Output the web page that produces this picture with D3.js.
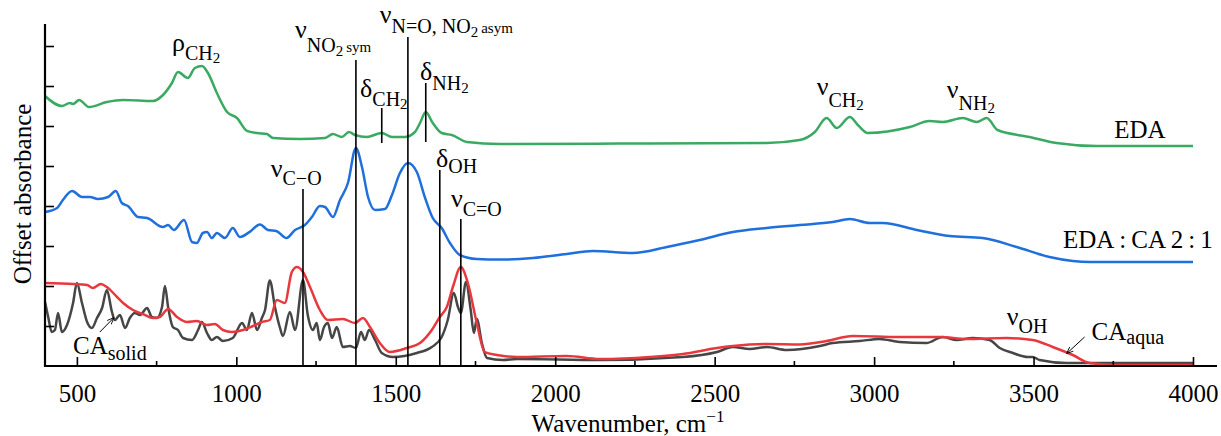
<!DOCTYPE html>
<html>
<head>
<meta charset="utf-8">
<script src="https://cdn.jsdelivr.net/npm/d3@7"></script>
<style>
  body { margin: 0; background: #fff; }
</style>
</head>
<body>
<div id="chart"></div>
<script>
// spectra: wavenumber (cm-1) and offset absorbance (arb. units, 1 per y tick)
var edaWn = [400,453,478,488,507,538,594,645,739,770,798,817,848,870,892,911,939,971,1002,1033,1065,1096,1115,1199,1278,1303,1331,1353,1372,1409,1456,1488,1529,1560,1576,1594,1616,1644,1676,1723,1826,2200,2663,2767,2814,2851,2883,2924,2949,2980,3112,3174,3215,3278,3322,3353,3387,3488,3572,3698,4000];
var edaAbs = [6.75,6.5,6.575,6.55,6.65,6.475,6.6,6.65,6.625,6.775,7.075,7.35,7.2,7.45,7.5,7.325,6.825,6.35,6.2,5.88,5.825,5.8,5.7,5.675,5.7,5.8,5.725,5.85,5.775,5.725,5.825,5.725,5.725,5.85,6.075,6.35,6.075,5.825,5.775,5.6,5.55,5.56,5.575,5.65,5.85,6.2,5.95,6.225,6.025,5.825,5.975,6.125,6.1,6.2,6.1,6.2,5.9,5.725,5.575,5.5,5.5];

var mixWn = [400,438,456,485,516,541,566,598,622,641,660,692,720,770,786,804,836,861,876,895,908,923,939,964,989,1011,1043,1074,1099,1127,1157,1184,1215,1237,1262,1278,1303,1325,1350,1375,1394,1413,1435,1466,1488,1513,1538,1566,1591,1616,1644,1670,1701,1754,1826,1930,2036,2118,2243,2350,2453,2557,2663,2767,2870,2924,2986,3027,3134,3237,3340,3447,3550,3623,3676,4000];
var mixAbs = [3.85,3.95,4.15,4.375,4.225,4.225,4.175,4.225,4.375,4.075,4.0,3.725,3.7,3.475,3.525,3.4,3.65,3.1,3.075,3.325,3.35,3.2,3.325,3.2,3.45,3.225,3.36,3.54,3.4,3.37,3.2,3.4,3.525,3.725,4.0,3.975,3.725,4.15,4.575,5.45,4.975,4.225,3.9,3.925,4.275,4.825,5.075,4.85,4.225,3.7,3.45,3.075,2.775,2.675,2.66,2.7,2.8,2.875,2.825,2.975,3.15,3.35,3.45,3.525,3.6,3.675,3.575,3.575,3.4,3.25,3.2,2.975,2.725,2.625,2.6,2.6];

var aquaWn = [400,488,532,550,575,594,626,645,676,707,739,760,786,814,845,876,908,933,958,986,1021,1052,1080,1105,1127,1152,1174,1190,1209,1231,1262,1287,1334,1372,1397,1419,1450,1481,1535,1576,1613,1638,1660,1679,1704,1726,1754,1779,1817,1880,2036,2140,2297,2400,2507,2557,2663,2767,2851,2933,3080,3206,3290,3416,3497,3560,3623,3676,3760,4000];
var aquaAbs = [2.075,2.05,2.025,1.95,2.05,1.975,1.725,1.575,1.4,1.3,1.2,1.225,1.425,1.225,1.1,1.125,1.025,1.05,0.9,0.85,0.9,1.0,1.1,1.15,1.65,1.575,2.35,2.475,2.35,1.975,1.4,1.15,1.175,1.075,1.2,0.975,0.575,0.35,0.45,0.575,0.9,1.225,1.475,1.975,2.475,2.075,1.075,0.35,0.275,0.225,0.25,0.175,0.225,0.3,0.45,0.5,0.55,0.54,0.625,0.75,0.725,0.725,0.675,0.7,0.65,0.475,0.275,0.075,0.025,0.025];

var solidWn = [400,410,421,431,441,453,469,488,500,516,532,547,563,579,594,610,619,635,651,666,682,698,720,735,751,767,776,786,801,817,833,861,880,892,908,923,939,958,989,1018,1033,1049,1065,1080,1090,1105,1121,1137,1146,1168,1184,1209,1224,1240,1252,1262,1275,1287,1300,1315,1334,1356,1375,1391,1403,1416,1435,1456,1491,1566,1613,1644,1663,1682,1695,1704,1720,1735,1745,1754,1770,1786,1836,1880,2140,2400,2507,2557,2610,2663,2726,2830,2870,2955,3017,3080,3164,3215,3259,3309,3362,3394,3435,3482,3497,3519,3604,4000];
var solidAbs = [1.6,1.225,0.85,0.9,1.325,0.85,1.025,1.575,2.075,1.575,1.1,0.95,1.2,1.45,1.9,1.35,1.15,1.275,0.95,1.2,1.325,1.275,1.45,1.225,1.2,1.475,2.0,1.475,0.975,0.9,0.7,0.65,0.9,1.1,0.825,0.65,0.725,0.625,0.7,1.075,0.9,1.325,0.9,1.2,1.4,2.14,1.475,0.95,0.75,1.35,0.9,2.15,1.275,0.9,1.075,0.65,0.975,1.075,0.7,0.975,0.475,0.5,0.45,0.85,0.65,0.9,0.65,0.325,0.225,0.325,0.475,0.725,1.15,1.825,1.475,1.325,2.1,1.4,0.825,1.175,0.575,0.2,0.15,0.175,0.15,0.225,0.35,0.475,0.425,0.475,0.4,0.5,0.575,0.625,0.675,0.6,0.575,0.725,0.65,0.7,0.65,0.45,0.325,0.225,0.225,0.15,0.075,0.075];

var xTicks = [500,1000,1500,2000,2500,3000,3500,4000];
var xMinorTicks = [750,1250,1750,2250,2750,3250,3750];
var yTicks = [1,2,3,4,5,6,7,8];

// band markers: wavenumber, top and bottom of the marker line
var bandWn = [1209,1375,1456,1538,1594,1638,1704];
var bandTop = [4.425,7.65,6.45,8.225,7.075,4.9,3.675];
var bandBottom = [0,0,5.575,0,5.6,0,0];

var width = 1221, height = 436;
var serif = '"Liberation Serif", "Times New Roman", Times, serif';

var x = d3.scaleLinear().domain([400, 4000]).range([45, 1193]);
var y = d3.scaleLinear().domain([0, 8.55]).range([366, 24]);

var svg = d3.select('#chart').append('svg')
    .attr('width', width)
    .attr('height', height)
    .style('font-family', serif);

var line = d3.line()
    .x(function(d) { return x(d[0]); })
    .y(function(d) { return y(d[1]); })
    .curve(d3.curveMonotoneX);

var series = [
  { wn: solidWn, ab: solidAbs, color: '#464646' },
  { wn: aquaWn, ab: aquaAbs, color: '#e8383d' },
  { wn: mixWn, ab: mixAbs, color: '#1f6fdc' },
  { wn: edaWn, ab: edaAbs, color: '#3aaa62' }
];

series.forEach(function(s) {
  svg.append('path')
      .datum(d3.zip(s.wn, s.ab))
      .attr('d', line)
      .attr('fill', 'none')
      .attr('stroke', s.color)
      .attr('stroke-width', 2.5)
      .attr('stroke-linejoin', 'round');
});

// marker lines
svg.selectAll('.band').data(bandWn)
  .enter().append('line')
    .attr('x1', function(d) { return x(d); })
    .attr('x2', function(d) { return x(d); })
    .attr('y1', function(d, i) { return y(bandTop[i]); })
    .attr('y2', function(d, i) { return y(bandBottom[i]); })
    .attr('stroke', '#000')
    .attr('stroke-width', 1.6);

// axes
var xAxis = svg.append('g')
    .attr('transform', 'translate(0,366)')
    .call(d3.axisBottom(x).tickValues(xTicks).tickFormat(d3.format('d'))
      .tickSizeInner(-9).tickSizeOuter(0).tickPadding(18));
xAxis.attr('font-family', null);
xAxis.select('.domain').remove();
xAxis.selectAll('.tick line').attr('stroke-width', 1.6);
xAxis.selectAll('.tick text')
    .style('font-size', '25px')
    .style('font-family', serif)
    .attr('fill', '#000');

svg.append('g')
    .attr('transform', 'translate(0,366)')
    .selectAll('line').data(xMinorTicks)
  .enter().append('line')
    .attr('x1', function(d) { return x(d); })
    .attr('x2', function(d) { return x(d); })
    .attr('y1', 0).attr('y2', -5)
    .attr('stroke', '#000').attr('stroke-width', 1.6);

svg.append('line')
    .attr('x1', 44).attr('x2', 1217)
    .attr('y1', 366).attr('y2', 366)
    .attr('stroke', '#000').attr('stroke-width', 2.2);

var yAxis = svg.append('g')
    .attr('transform', 'translate(45,0)')
    .call(d3.axisLeft(y).tickValues(yTicks).tickSizeInner(-9).tickSizeOuter(0).tickFormat(''));
yAxis.select('.domain').remove();
yAxis.selectAll('.tick line').attr('stroke-width', 1.6);
svg.append('line')
    .attr('x1', 45).attr('x2', 45)
    .attr('y1', 24).attr('y2', 367)
    .attr('stroke', '#000').attr('stroke-width', 2.2);

// axis titles
var xt = svg.append('text')
    .attr('x', 628).attr('y', 432)
    .attr('text-anchor', 'middle')
    .style('font-family', serif)
    .style('font-size', '25px');
xt.append('tspan').text('Wavenumber, cm');
xt.append('tspan').attr('dy', -10).style('font-size', '17px').text('\u22121');

svg.append('text')
    .attr('transform', 'translate(31,194) rotate(-90)')
    .attr('text-anchor', 'middle')
    .style('font-family', serif)
    .style('font-size', '25px')
    .text('Offset absorbance');

// labels: [text, font size, offset below main baseline]
var labels = [
  { wn: 798, v: 7.875, parts: [['\u03c1', 26, 0], ['CH', 20, 9], ['2', 15, 12]] },
  { wn: 1184, v: 8.2, parts: [['\u03bd', 26, 0], ['NO', 20, 14], ['2', 15, 18], ['\u2009sym', 15, 14]] },
  { wn: 1450, v: 8.575, parts: [['\u03bd', 26, 0], ['N=O, NO', 20, 10], ['2', 15, 14], ['\u2009asym', 15, 10]] },
  { wn: 1388, v: 6.725, parts: [['\u03b4', 26, 0], ['CH', 20, 9], ['2', 15, 12]] },
  { wn: 1576, v: 7.15, parts: [['\u03b4', 26, 0], ['NH', 20, 10], ['2', 15, 13]] },
  { wn: 1108, v: 4.725, parts: [['\u03bd', 26, 0], ['C\u2212O', 20, 8]] },
  { wn: 1626, v: 4.975, parts: [['\u03b4', 26, 0], ['OH', 20, 6]] },
  { wn: 1673, v: 3.975, parts: [['\u03bd', 26, 0], ['C=O', 20, 9]] },
  { wn: 2820, v: 6.775, parts: [['\u03bd', 26, 0], ['CH', 20, 12], ['2', 15, 15]] },
  { wn: 3228, v: 6.7, parts: [['\u03bd', 26, 0], ['NH', 20, 12], ['2', 15, 15]] },
  { wn: 3416, v: 1.025, parts: [['\u03bd', 26, 0], ['OH', 20, 8]] },
  { wn: 3682, v: 0.65, parts: [['CA', 25, 0], ['aqua', 20, 4]] },
  { wn: 488, v: 0.3, parts: [['CA', 25, 0], ['solid', 20, 6]] }
];

labels.forEach(function(l) {
  var t = svg.append('text')
      .attr('x', x(l.wn)).attr('y', y(l.v))
      .style('font-family', serif)
      .attr('fill', '#000');
  var prev = 0;
  l.parts.forEach(function(p) {
    t.append('tspan')
        .attr('dy', p[2] - prev)
        .style('font-size', p[1] + 'px')
        .text(p[0]);
    prev = p[2];
  });
});

svg.append('text')
    .attr('x', x(3914)).attr('y', y(5.7))
    .attr('text-anchor', 'end')
    .style('font-family', serif)
    .style('font-size', '25px')
    .text('EDA');

svg.append('text')
    .attr('x', x(4062)).attr('y', y(2.95))
    .attr('text-anchor', 'end')
    .style('font-family', serif)
    .style('font-size', '25px')
    .text('EDA\u2009:\u2009CA 2\u2009:\u20091');

// arrows to the CA curves
svg.append('defs').append('marker')
    .attr('id', 'arrow')
    .attr('viewBox', '0 0 10 10')
    .attr('refX', 9).attr('refY', 5)
    .attr('markerWidth', 7).attr('markerHeight', 7)
    .attr('orient', 'auto')
  .append('path')
    .attr('d', 'M0,1 L10,5 L0,9')
    .attr('fill', 'none')
    .attr('stroke', '#000')
    .attr('stroke-width', 1.2);

var arrows = [[[572, 0.85], [615, 1.2]], [[3660, 0.725], [3605, 0.32]]];
arrows.forEach(function(a) {
  svg.append('line')
      .attr('x1', x(a[0][0])).attr('y1', y(a[0][1]))
      .attr('x2', x(a[1][0])).attr('y2', y(a[1][1]))
      .attr('stroke', '#000').attr('stroke-width', 1)
      .attr('marker-end', 'url(#arrow)');
});
</script>
</body>
</html>
